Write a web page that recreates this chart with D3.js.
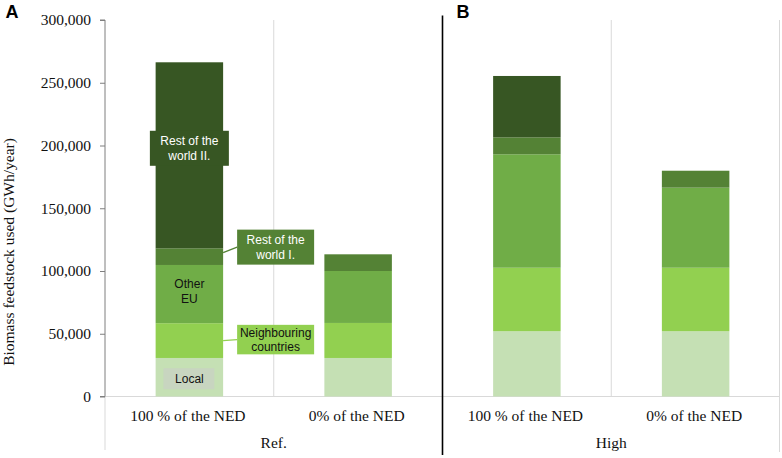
<!DOCTYPE html>
<html>
<head>
<meta charset="utf-8">
<script src="https://cdn.jsdelivr.net/npm/d3@7"></script>
<style>
  html, body { margin: 0; padding: 0; background: #fff; }
  svg { display: block; }
</style>
</head>
<body>
<svg id="chart" width="782" height="458"></svg>
<script>
// ---------- DATA ----------
const groups = ["Ref.", "High"];
const scenarios = ["100 % of the NED", "0% of the NED"];
const seriesNames = ["Local", "Neighbouring countries", "Other EU", "Rest of the world I.", "Rest of the world II."];
const seriesColors = ["#c5e0b4", "#92d050", "#70ad47", "#548235", "#375623"];
// values per bar: Ref/100, Ref/0, High/100, High/0  (GWh/year)
const local        = [30700, 30700, 52000, 52000];
const neighbouring = [27700, 27900, 50600, 50600];
const otherEU      = [46400, 41400, 90400, 63800];
const restWorldI   = [13300, 13300, 13500, 13500];
const restWorldII  = [148200, 0, 48900, 0];
const yTicks = [0, 50000, 100000, 150000, 200000, 250000, 300000];
const yTitle = "Biomass feedstock used (GWh/year)";
const panelLetters = ["A", "B"];

// ---------- BUILD ----------
const bars = [];
groups.forEach(g => scenarios.forEach(s => bars.push({ group: g, scenario: s, key: g + "|" + s })));
const seriesValues = [local, neighbouring, otherEU, restWorldI, restWorldII];
const table = bars.map((b, i) => {
  const row = { key: b.key };
  seriesNames.forEach((n, j) => row[n] = seriesValues[j][i]);
  return row;
});
const stacked = d3.stack().keys(seriesNames)(table);

const svg = d3.select("#chart");
const pLeft = 105, pRight = 780, pTop = 20, pBottom = 396.5;

const x = d3.scaleBand().domain(bars.map(b => b.key)).range([pLeft, pRight])
  .paddingInner(0.6).paddingOuter(0.3);
const y = d3.scaleLinear().domain([0, 300000]).range([pBottom, pTop]);
const step = x.step();

const grid = svg.append("g");
// baseline
grid.append("line").attr("x1", pLeft).attr("x2", pRight).attr("y1", y(0)).attr("y2", y(0))
  .attr("stroke", "#d9d9d9").attr("stroke-width", 1);
// vertical separators between bars within group
bars.forEach((b, i) => {
  const xs = x(b.key) - step * 0.3;
  if (i === 0) return;
  const isGroupEdge = i % 2 === 0;
  if (!isGroupEdge) {
    grid.append("line").attr("x1", xs).attr("x2", xs).attr("y1", pTop).attr("y2", y(0))
      .attr("stroke", "#d9d9d9").attr("stroke-width", 1);
  }
});
// outer left lower extension and right edge
grid.append("line").attr("x1", pLeft).attr("x2", pLeft).attr("y1", y(0)).attr("y2", 450)
  .attr("stroke", "#d9d9d9");
grid.append("line").attr("x1", pRight - 0.5).attr("x2", pRight - 0.5).attr("y1", pTop).attr("y2", 452)
  .attr("stroke", "#d9d9d9");

// bars
const layer = svg.append("g");
stacked.forEach((s, si) => {
  layer.selectAll(null).data(s.filter(d => d[1] - d[0] > 0)).enter().append("rect")
    .attr("x", d => x(d.data.key))
    .attr("width", x.bandwidth())
    .attr("y", d => y(d[1]))
    .attr("height", d => y(d[0]) - y(d[1]))
    .attr("fill", seriesColors[si]);
});

// y axis
const serif = "'Liberation Serif', 'Times New Roman', serif";
const sans = "'Liberation Sans', Arial, sans-serif";
const yAxis = d3.axisLeft(y).tickValues(yTicks).tickFormat(d3.format(",")).tickSize(5).tickPadding(9);
const ga = svg.append("g").attr("transform", `translate(${pLeft},0)`).call(yAxis);
ga.select(".domain").attr("stroke", "#7f7f7f").attr("d", `M-5,${y(300000)}H0V${y(0)}H-5`);
ga.selectAll(".tick line").attr("stroke", "#7f7f7f");
ga.selectAll(".tick text").attr("font-family", serif)
  .attr("font-size", "15.5px").attr("fill", "#111");

// y title
svg.append("text")
  .attr("transform", `translate(14,${252}) rotate(-90)`)
  .attr("text-anchor", "middle")
  .attr("font-family", serif)
  .attr("font-size", "15.5px").attr("fill", "#111")
  .text(yTitle);

// category labels
bars.forEach(b => {
  svg.append("text").attr("x", x(b.key) + x.bandwidth() / 2 - 1.5).attr("y", 420.5)
    .attr("text-anchor", "middle").attr("font-family", serif).attr("font-size", "15.5px")
    .attr("fill", "#111").text(b.scenario);
});
groups.forEach((g, gi) => {
  const k1 = bars[gi * 2].key, k2 = bars[gi * 2 + 1].key;
  const cx = (x(k1) + x(k2) + x.bandwidth()) / 2;
  svg.append("text").attr("x", cx).attr("y", 447.5)
    .attr("text-anchor", "middle").attr("font-family", serif).attr("font-size", "15.5px")
    .attr("fill", "#111").text(g);
});

// group separator (black)
const sepX = x(bars[2].key) - step * 0.3;
svg.append("line").attr("x1", sepX).attr("x2", sepX).attr("y1", 15.5).attr("y2", 455)
  .attr("stroke", "#000").attr("stroke-width", 1.6);

// panel letters
svg.append("text").attr("x", 5.5).attr("y", 17.5).attr("font-family", sans).attr("font-weight", "bold")
  .attr("font-size", "18px").attr("fill", "#000").text(panelLetters[0]);
svg.append("text").attr("x", sepX + 14).attr("y", 17.5).attr("font-family", sans).attr("font-weight", "bold")
  .attr("font-size", "18px").attr("fill", "#000").text(panelLetters[1]);

// ---------- data labels on first bar ----------
const b0 = bars[0].key;
const bx0 = x(b0), bw = x.bandwidth(), bcx = bx0 + bw / 2;
function seg(si) { const d = stacked[si][0]; return { top: y(d[1]), bot: y(d[0]), mid: (y(d[0]) + y(d[1])) / 2 }; }
function twoLine(g, cx, cy, lines, color) {
  const t = g.append("text").attr("text-anchor", "middle").attr("font-family", sans)
    .attr("font-size", "12px").attr("fill", color);
  lines.forEach((l, i) => {
    t.append("tspan").attr("x", cx).attr("y", cy + (i - (lines.length - 1) / 2) * 14.3 + 4.3).text(l);
  });
}
const ann = svg.append("g");

// Rest of the world II.
{
  const s = seg(4);
  const cy = s.mid - 7, w = 79, h = 35;
  ann.append("rect").attr("x", bcx - w / 2).attr("y", cy - h / 2).attr("width", w).attr("height", h)
    .attr("fill", seriesColors[4]);
  twoLine(ann, bcx, cy, ["Rest of the", "world II."], "#fff");
}
// Rest of the world I.
{
  const s = seg(3);
  const bxL = bx0 + bw + 14, w = 77, h = 35, cy = s.mid - 9.5;
  ann.append("line").attr("x1", bx0 + bw).attr("y1", s.mid - 4).attr("x2", bxL).attr("y2", cy)
    .attr("stroke", seriesColors[3]).attr("stroke-width", 1.3);
  ann.append("rect").attr("x", bxL).attr("y", cy - h / 2).attr("width", w).attr("height", h)
    .attr("fill", seriesColors[3]);
  twoLine(ann, bxL + w / 2, cy, ["Rest of the", "world I."], "#fff");
}
// Other EU
{
  const s = seg(2);
  twoLine(ann, bcx, s.mid - 3, ["Other", "EU"], "#111");
}
// Neighbouring countries
{
  const s = seg(1);
  const bxL = bx0 + bw + 14, w = 77, h = 29.5, cy = s.mid - 1;
  ann.append("line").attr("x1", bx0 + bw).attr("y1", s.mid).attr("x2", bxL).attr("y2", cy)
    .attr("stroke", seriesColors[1]).attr("stroke-width", 1.3);
  ann.append("rect").attr("x", bxL).attr("y", cy - h / 2).attr("width", w).attr("height", h)
    .attr("fill", seriesColors[1]);
  twoLine(ann, bxL + w / 2, cy, ["Neighbouring", "countries"], "#111");
}
// Local
{
  const s = seg(0);
  const w = 51, h = 21, cy = s.mid + 1.5;
  ann.append("rect").attr("x", bcx - w / 2 - 0.5).attr("y", cy - h / 2).attr("width", w).attr("height", h)
    .attr("fill", "#c8d5c0");
  twoLine(ann, bcx, cy, ["Local"], "#111");
}
</script>
</body>
</html>
